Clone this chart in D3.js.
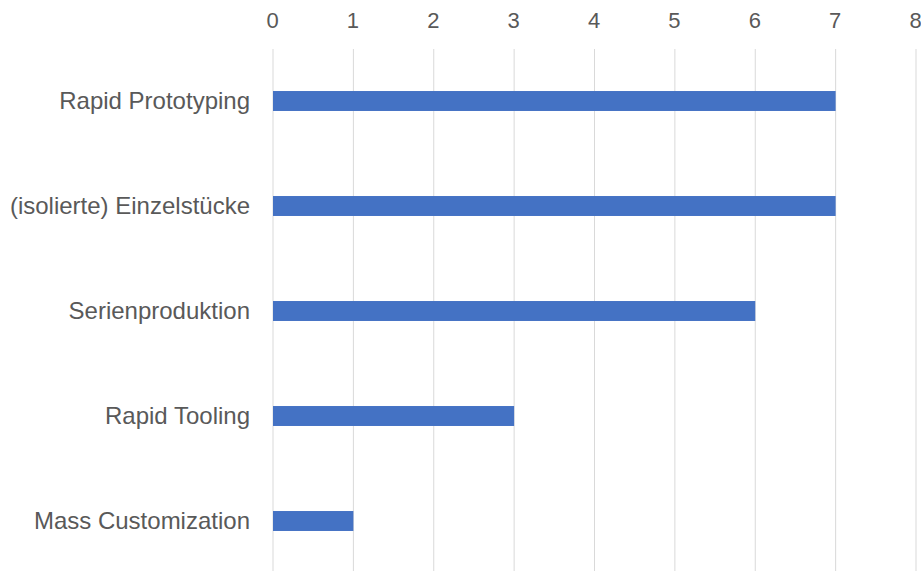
<!DOCTYPE html>
<html>
<head>
<meta charset="utf-8">
<script src="https://cdn.jsdelivr.net/npm/d3@7"></script>
<style>
  body { margin: 0; background: #fff; }
  svg { display: block; }
  text { font-family: "Liberation Sans", Arial, sans-serif; fill: #595959; }
</style>
</head>
<body>
<div id="chart"></div>
<script>
// data
var categories = ["Rapid Prototyping", "(isolierte) Einzelstücke", "Serienproduktion", "Rapid Tooling", "Mass Customization"];
var values = [7, 7, 6, 3, 1];
var tickValues = [0, 1, 2, 3, 4, 5, 6, 7, 8];

var svgwidth = 921;
var svgheight = 571;

var svg = d3.select("#chart")
    .append("svg")
    .attr("width", svgwidth)
    .attr("height", svgheight);

var xscale = d3.scaleLinear()
    .domain([0, 8])
    .range([273, 916]);

var yscale = d3.scaleBand()
    .domain(categories)
    .range([48.5, 573.5])
    .paddingInner(0.81)
    .paddingOuter(0.405);

// gridlines
svg.append("g")
    .selectAll("line")
    .data(tickValues)
    .enter()
    .append("line")
    .attr("x1", d => xscale(d))
    .attr("x2", d => xscale(d))
    .attr("y1", 49)
    .attr("y2", svgheight)
    .attr("stroke", "#d9d9d9")
    .attr("stroke-width", 1);

// top axis labels
var xAxis = d3.axisTop(xscale).tickValues(tickValues).tickSize(0).tickPadding(0);
var gx = svg.append("g")
    .attr("transform", "translate(-1, 28)")
    .call(xAxis);
gx.select(".domain").remove();
gx.selectAll("text")
    .attr("font-size", 22)
    .style("font-family", "'Liberation Sans', Arial, sans-serif")
    .attr("fill", "#595959");

// bars
svg.append("g")
    .selectAll("rect")
    .data(values)
    .enter()
    .append("rect")
    .attr("x", xscale(0))
    .attr("y", (d, i) => yscale(categories[i]))
    .attr("width", d => xscale(d) - xscale(0))
    .attr("height", yscale.bandwidth())
    .attr("fill", "#4472c4");

// category labels
var yAxis = d3.axisLeft(yscale).tickSize(0).tickPadding(0);
var gy = svg.append("g")
    .attr("transform", "translate(250, 0)")
    .call(yAxis);
gy.select(".domain").remove();
gy.selectAll("text")
    .attr("font-size", 24)
    .style("font-family", "'Liberation Sans', Arial, sans-serif")
    .attr("fill", "#595959");
</script>
</body>
</html>
